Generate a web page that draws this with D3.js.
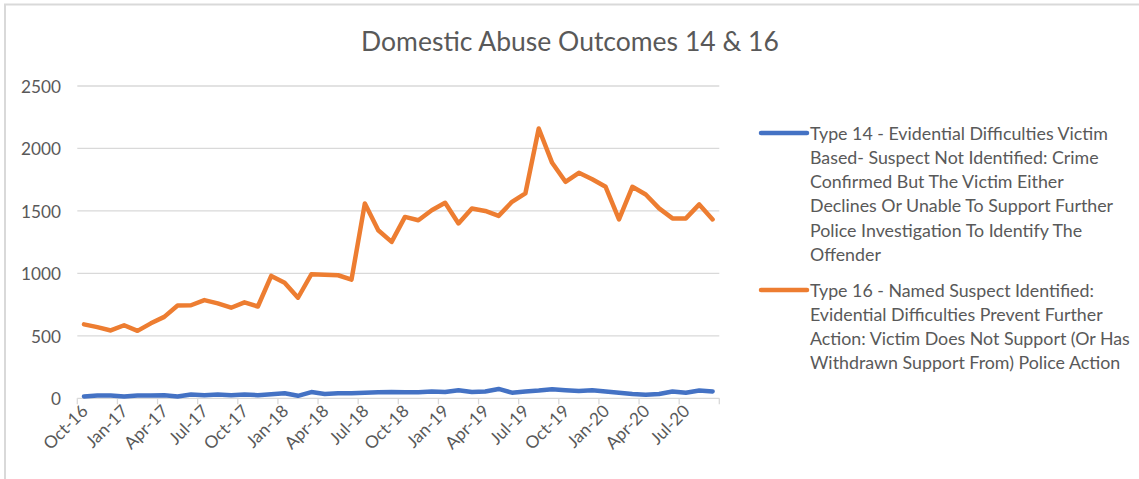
<!DOCTYPE html>
<html>
<head>
<meta charset="utf-8">
<script src="https://cdn.jsdelivr.net/npm/d3@7"></script>
<style>
  html, body { margin: 0; padding: 0; background: #fff; }
  svg { display: block; }
  text { font-family: Lato, "Open Sans", sans-serif; fill: #595959; }
</style>
</head>
<body>
<svg id="chart" width="1139" height="479"></svg>
<script>
// Monthly categories, October 2016 to September 2020
const months = [
  "Oct-16","Nov-16","Dec-16","Jan-17","Feb-17","Mar-17","Apr-17","May-17","Jun-17","Jul-17","Aug-17","Sep-17",
  "Oct-17","Nov-17","Dec-17","Jan-18","Feb-18","Mar-18","Apr-18","May-18","Jun-18","Jul-18","Aug-18","Sep-18",
  "Oct-18","Nov-18","Dec-18","Jan-19","Feb-19","Mar-19","Apr-19","May-19","Jun-19","Jul-19","Aug-19","Sep-19",
  "Oct-19","Nov-19","Dec-19","Jan-20","Feb-20","Mar-20","Apr-20","May-20","Jun-20","Jul-20","Aug-20","Sep-20"
];

// Outcome 14 counts per month
const type14 = [15,22,22,15,22,22,25,15,30,25,30,25,30,25,32,40,20,50,35,40,40,45,48,50,
                48,48,55,50,65,50,55,75,45,55,62,72,65,58,65,55,45,35,28,35,55,45,62,55];

// Outcome 16 counts per month
const type16 = [592,570,543,585,540,600,652,743,745,786,760,725,768,735,980,925,805,993,990,985,950,1560,1345,1252,
                1452,1425,1505,1565,1400,1520,1500,1460,1573,1640,2160,1885,1733,1805,1754,1693,1432,1693,1632,1520,1440,1440,1552,1432];

const yTicks = [0, 500, 1000, 1500, 2000, 2500];

const titleText = "Domestic Abuse Outcomes 14 & 16";

const legend14 = [
  "Type 14 - Evidential Difficulties Victim",
  "Based- Suspect Not Identified: Crime",
  "Confirmed But The Victim Either",
  "Declines Or Unable To Support Further",
  "Police Investigation To Identify The",
  "Offender"
];
const legend16 = [
  "Type 16 - Named Suspect Identified:",
  "Evidential Difficulties Prevent Further",
  "Action: Victim Does Not Support (Or Has",
  "Withdrawn Support From) Police Action"
];

const series = [
  { name: "type14", values: type14, color: "#4472C4", legend: legend14 },
  { name: "type16", values: type16, color: "#ED7D31", legend: legend16 }
];

const svg = d3.select("#chart");

// Outer chart frame (only top and left edges fall inside the view)
svg.append("rect")
  .attr("x", 5).attr("y", 4.5)
  .attr("width", 1200).attr("height", 520)
  .attr("fill", "none").attr("stroke", "#d9d9d9").attr("stroke-width", 2);

// Pick a font size so a sample string renders at a given width
function fitSize(str, targetWidth) {
  const t = svg.append("text").attr("font-size", 20).text(str);
  const w = t.node().getComputedTextLength();
  t.remove();
  return 20 * targetWidth / w;
}

const tickSize = fitSize("2500", 40);
const legendSize = fitSize("Action: Victim Does Not Support (Or Has", 320);
const titleSize = fitSize(titleText, 418);

const plot = { left: 77.3, right: 719.3, top: 86, bottom: 398.3 };

const x = d3.scalePoint()
  .domain(d3.range(months.length))
  .range([plot.left, plot.right])
  .padding(0.5);

const y = d3.scaleLinear()
  .domain([0, 2500])
  .range([plot.bottom, plot.top]);

// Title
svg.append("text")
  .attr("x", 570).attr("y", 51)
  .attr("text-anchor", "middle")
  .attr("font-size", titleSize)
  .text(titleText);

// Horizontal gridlines
svg.append("g")
  .selectAll("line")
  .data(yTicks.filter(d => d > 0))
  .join("line")
  .attr("x1", plot.left).attr("x2", plot.right)
  .attr("y1", d => y(d)).attr("y2", d => y(d))
  .attr("stroke", "#d9d9d9").attr("stroke-width", 1.3);

// Y axis labels
const yAxis = d3.axisLeft(y).tickValues(yTicks).tickSize(0).tickPadding(0).tickFormat(d3.format("d"));
const yg = svg.append("g").attr("transform", `translate(61,0)`).call(yAxis);
yg.select(".domain").remove();
yg.selectAll("text")
  .attr("font-size", tickSize)
  .attr("fill", "#595959")
  .attr("font-family", "Lato, 'Open Sans', sans-serif")
  .attr("dy", "0.36em");

// Category axis line and tick marks between categories
const step = x.step();
const boundaries = d3.range(0, months.length + 1, 3).map(i => plot.left + i * step);
svg.append("line")
  .attr("x1", plot.left).attr("x2", plot.right)
  .attr("y1", plot.bottom).attr("y2", plot.bottom)
  .attr("stroke", "#d9d9d9").attr("stroke-width", 1.3);
svg.append("g")
  .selectAll("line")
  .data(boundaries)
  .join("line")
  .attr("x1", d => d).attr("x2", d => d)
  .attr("y1", plot.bottom).attr("y2", plot.bottom + 6)
  .attr("stroke", "#d9d9d9").attr("stroke-width", 1.3);

// Rotated month labels, every third month
const labelIdx = d3.range(0, months.length, 3);
svg.append("g")
  .selectAll("text")
  .data(labelIdx)
  .join("text")
  .attr("font-size", tickSize)
  .attr("text-anchor", "end")
  .attr("transform", i => `translate(${x(i) + 5},${plot.bottom + 14}) rotate(-45)`)
  .text(i => months[i]);

// Series lines
const line = d3.line()
  .x((d, i) => x(i))
  .y(d => y(d));

svg.append("g")
  .selectAll("path")
  .data(series)
  .join("path")
  .attr("d", s => line(s.values))
  .attr("fill", "none")
  .attr("stroke", s => s.color)
  .attr("stroke-width", 4.5)
  .attr("stroke-linejoin", "round")
  .attr("stroke-linecap", "round");

// Legend
const legendX = 761, textX = 810, lineGap = 24.3;
const legendTops = [133, 290];
series.forEach((s, k) => {
  const g = svg.append("g");
  g.append("line")
    .attr("x1", legendX).attr("x2", legendX + 46)
    .attr("y1", legendTops[k]).attr("y2", legendTops[k])
    .attr("stroke", s.color).attr("stroke-width", 4.5)
    .attr("stroke-linecap", "round");
  g.selectAll("text")
    .data(s.legend)
    .join("text")
    .attr("x", textX)
    .attr("y", (d, i) => legendTops[k] + 6.5 + i * lineGap)
    .attr("font-size", legendSize)
    .text(d => d);
});
</script>
</body>
</html>
